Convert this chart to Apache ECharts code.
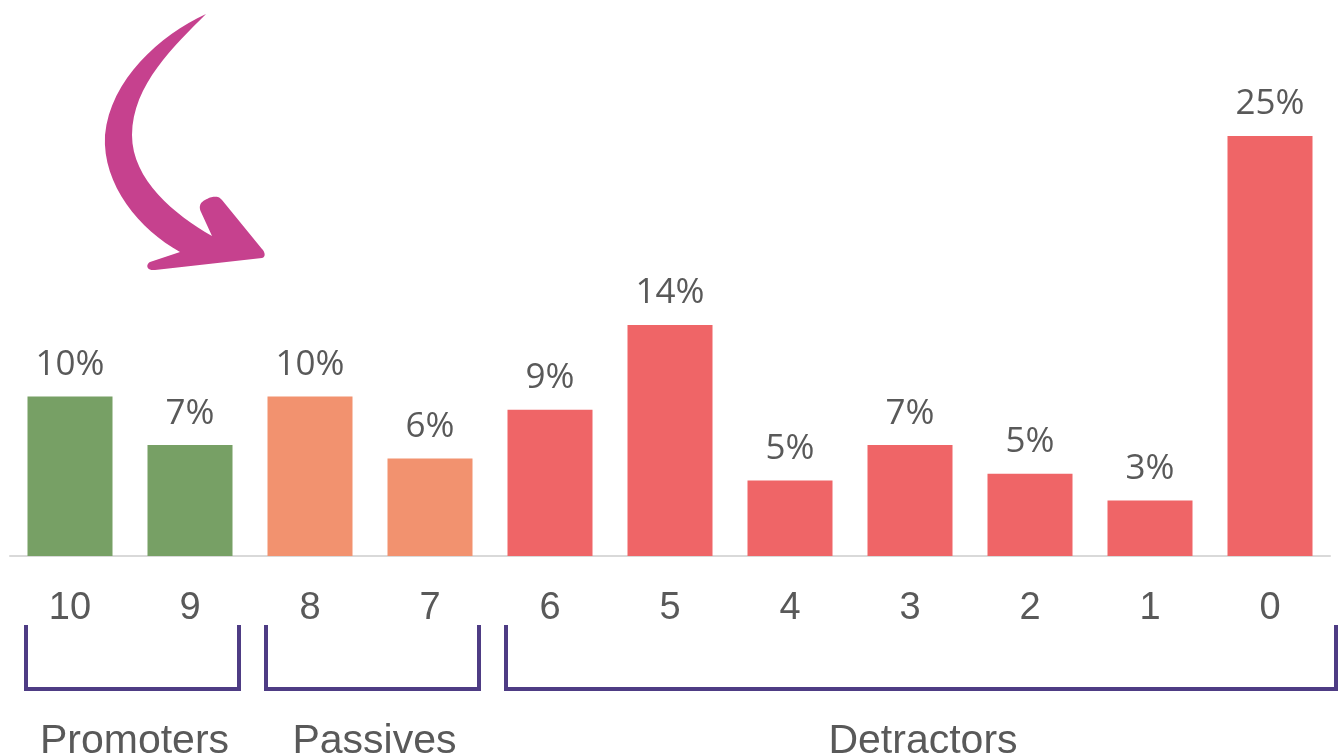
<!DOCTYPE html>
<html>
<head>
<meta charset="utf-8">
<script src="https://cdn.jsdelivr.net/npm/echarts@6/dist/echarts.min.js"></script>
<style>
  html, body { margin: 0; padding: 0; background: #fff; }
  #chart { width: 1339px; height: 755px; }
</style>
</head>
<body>
<div id="chart"></div>
<script>
// NPS score distribution
var scores = ['10', '9', '8', '7', '6', '5', '4', '3', '2', '1', '0'];
var shares = [9.5, 6.6, 9.5, 5.8, 8.7, 13.75, 4.5, 6.6, 4.9, 3.3, 25];
var groupOf = ['p', 'p', 'n', 'n', 'd', 'd', 'd', 'd', 'd', 'd', 'd'];
var groupNames = ['Promoters', 'Passives', 'Detractors'];
var groupKeys = ['p', 'n', 'd'];

var colors = { p: '#77a065', n: '#f2926f', d: '#ef6567' };
var textColor = '#595959';
var bracketColor = '#4e3c84';

// hand-drawn arrow outline (decoration), as line/cubic segments
var arrowSegs = [
  ['M', 206, 14],
  ['C', 160, 35, 110, 80, 105, 135],
  ['C', 102, 185, 140, 230, 180, 252],
  ['L', 150, 262],
  ['C', 145, 265, 147, 271, 155, 270],
  ['L', 262, 258],
  ['C', 266, 257, 265, 252, 262, 249],
  ['L', 222, 200],
  ['C', 218, 195, 212, 196, 205, 200],
  ['C', 199, 203, 199, 208, 201, 212],
  ['L', 212, 236],
  ['C', 175, 215, 132, 180, 132, 135],
  ['C', 132, 85, 175, 45, 206, 14]
];

function outline(segs) {
  var pts = [];
  var cx = 0, cy = 0;
  segs.forEach(function (s) {
    if (s[0] === 'M' || s[0] === 'L') {
      cx = s[1]; cy = s[2];
      pts.push([cx, cy]);
    } else {
      for (var k = 1; k <= 16; k++) {
        var t = k / 16, u = 1 - t;
        pts.push([
          u * u * u * cx + 3 * u * u * t * s[1] + 3 * u * t * t * s[3] + t * t * t * s[5],
          u * u * u * cy + 3 * u * u * t * s[2] + 3 * u * t * t * s[4] + t * t * t * s[6]
        ]);
      }
      cx = s[5]; cy = s[6];
    }
  });
  return pts;
}

var chart = echarts.init(document.getElementById('chart'));

var barData = [];
for (var i = 0; i < shares.length; i++) {
  barData.push({ value: shares[i], itemStyle: { color: colors[groupOf[i]] } });
}

chart.setOption({
  animation: false,
  grid: { left: 10, right: 9, top: 136, bottom: 199 },
  xAxis: {
    type: 'category',
    data: scores,
    axisLine: { lineStyle: { color: '#d9d9d9', width: 2 } },
    axisTick: { show: false },
    axisLabel: {
      color: textColor, fontSize: 38, fontFamily: 'Liberation Sans, Arial',
      margin: 34
    }
  },
  yAxis: {
    type: 'value', min: 0, max: 25,
    show: false
  },
  series: [{
    type: 'bar',
    data: barData,
    barWidth: 85,
    label: {
      show: true, position: 'top', distance: 14,
      color: textColor, fontSize: 35, fontFamily: 'Open Sans',
      formatter: function (p) { return Math.round(p.value) + '%'; }
    }
  }]
});

// brackets and group names under the score axis
var graphics = [{
  type: 'polygon',
  shape: { points: outline(arrowSegs) },
  style: { fill: '#c6418e' }
}];
var half = 60;
groupKeys.forEach(function (key, g) {
  var first = groupOf.indexOf(key);
  var last = groupOf.lastIndexOf(key);
  var x0 = chart.convertToPixel({ xAxisIndex: 0 }, first) - half + 16;
  var x1 = chart.convertToPixel({ xAxisIndex: 0 }, last) + half - 11;
  if (last === scores.length - 1) x1 = 1336;
  graphics.push({
    type: 'polyline',
    shape: { points: [[x0, 625], [x0, 689], [x1, 689], [x1, 625]] },
    style: { stroke: bracketColor, lineWidth: 4, fill: null }
  });
  graphics.push({
    type: 'text',
    x: (x0 + x1) / 2 + 2, y: 742,
    style: {
      text: groupNames[g], fill: textColor, fontSize: 41,
      fontFamily: 'Liberation Sans, Arial', align: 'center', verticalAlign: 'middle'
    }
  });
});
chart.setOption({ graphic: graphics });
</script>
</body>
</html>
